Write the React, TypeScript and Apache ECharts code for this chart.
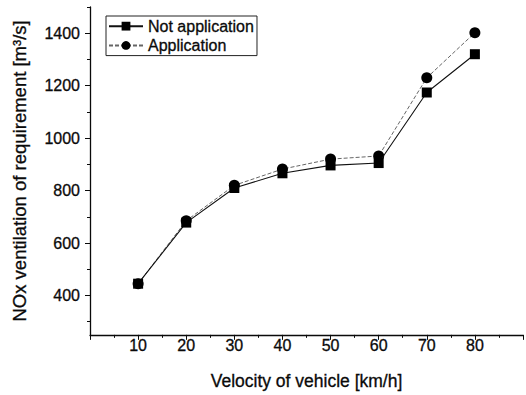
import React, { useEffect, useRef } from "react";
import * as echarts from "echarts";

const velocities = [10, 20, 30, 40, 50, 60, 70, 80];
const notApplication = [445, 678, 810, 866, 896, 905, 1174, 1320];
const application = [445, 685, 820, 882, 920, 932, 1230, 1402];
const yMajorTicks = [400, 600, 800, 1000, 1200, 1400];
const yMinorTicks = [300, 500, 700, 900, 1100, 1300, 1500];

const FONT = "Liberation Sans, Arial, sans-serif";
const INK = "#0a0a0a";

export default function App() {
  const ref = useRef<HTMLDivElement>(null);
  useEffect(() => {
    document.body.style.margin = "0";
    const chart = echarts.init(ref.current!, undefined, { renderer: "svg" });
    const axisLineStyle = { color: INK, width: 1.3 };
    const heavy = { textBorderColor: INK, textBorderWidth: 0.3 };
    chart.setOption({
      animation: false,
      backgroundColor: "#fff",
      textStyle: { fontFamily: FONT },
      grid: { left: 90, top: 7, right: -10, bottom: 60 },
      legend: {
        left: 106,
        top: 16,
        orient: "vertical",
        padding: [2, 3, 2, 2],
        itemGap: 3,
        itemWidth: 34,
        itemHeight: 11,
        borderColor: "#222",
        borderWidth: 1,
        textStyle: { fontFamily: FONT, fontSize: 16, color: INK, padding: [0, 0, 0, 0], ...heavy },
        data: ["Not application", "Application"],
      },
      xAxis: {
        type: "value",
        min: 0,
        max: 90,
        interval: 10,
        name: "Velocity of vehicle [km/h]",
        nameLocation: "middle",
        nameGap: 37,
        nameTextStyle: { fontFamily: FONT, fontSize: 17.5, color: INK, ...heavy },
        axisLine: { lineStyle: axisLineStyle },
        axisTick: { show: true, length: 5, lineStyle: { color: INK } },
        minorTick: { show: true, splitNumber: 2, length: 3, lineStyle: { color: INK } },
        splitLine: { show: false },
        axisLabel: {
          fontFamily: FONT,
          fontSize: 16,
          color: INK,
          margin: 3,
          ...heavy,
          formatter: (v: number) => (v >= 10 && v <= 80 ? String(v) : ""),
        },
      },
      yAxis: [
        {
          type: "value",
          min: 250,
          max: 1500,
          interval: 50,
          name: "NOx ventilation of requirement [m³/s]",
          nameLocation: "middle",
          nameGap: 61,
          nameTextStyle: { fontFamily: FONT, fontSize: 18.5, color: INK, ...heavy },
          axisLine: { show: true, lineStyle: axisLineStyle },
          axisTick: { show: true, length: 5, customValues: yMajorTicks, lineStyle: { color: INK } },
          axisLabel: {
            fontFamily: FONT,
            fontSize: 16,
            color: INK,
            margin: 10,
            ...heavy,
            customValues: yMajorTicks,
            formatter: (v: number) => String(v),
          },
          splitLine: { show: false },
        },
        {
          type: "value",
          position: "left",
          min: 250,
          max: 1500,
          interval: 50,
          axisLine: { show: false },
          axisTick: { show: true, length: 3, customValues: yMinorTicks, lineStyle: { color: INK } },
          axisLabel: { show: false },
          splitLine: { show: false },
        },
      ],
      series: [
        {
          name: "Not application",
          type: "line",
          data: velocities.map((v, i) => [v, notApplication[i]]),
          symbol: "rect",
          symbolSize: 10,
          itemStyle: { color: "#000" },
          lineStyle: { color: "#111", width: 1.1 },
          z: 3,
        },
        {
          name: "Application",
          type: "line",
          data: velocities.map((v, i) => [v, application[i]]),
          symbol: "circle",
          symbolSize: 11,
          itemStyle: { color: "#000" },
          lineStyle: { color: "#666", width: 1, type: [4, 2] },
          z: 2,
        },
      ],
    });
    return () => chart.dispose();
  }, []);
  return <div ref={ref} style={{ width: 526, height: 395 }} />;
}
